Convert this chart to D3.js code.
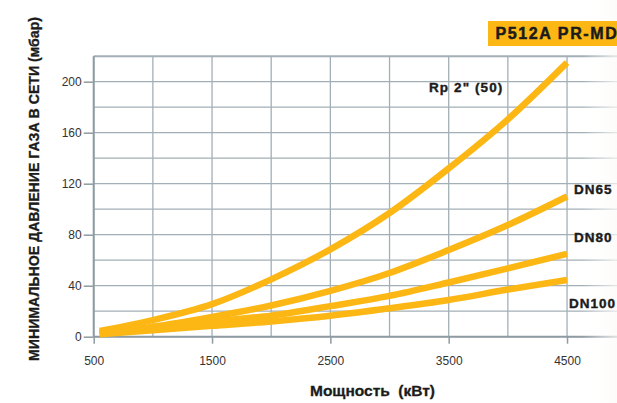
<!DOCTYPE html>
<html><head><meta charset="utf-8">
<script src="https://cdn.jsdelivr.net/npm/d3@7"></script>
<style>
html,body{margin:0;padding:0;background:#fff;overflow:hidden;}
svg{display:block;font-family:"Liberation Sans",Arial,sans-serif;}
</style></head>
<body>
<svg id="chart" width="617" height="403"></svg>
<script>
const powerKW = [550, 1000, 1500, 2000, 2500, 3000, 3500, 4000, 4500];
const rp2 = [4.5, 13, 25.5, 45, 68.5, 97, 132, 170.5, 215];
const dn65 = [3, 7.8, 15.5, 24.5, 36, 50, 68, 87.6, 110];
const dn80 = [2.5, 6, 12, 16.5, 24, 32, 42.5, 53.6, 65];
const dn100 = [2, 5, 8.5, 12, 16.5, 22.3, 28.8, 37, 44.5];
const seriesNames = ['Rp 2" (50)', "DN65", "DN80", "DN100"];
const xTicks = [500, 1500, 2500, 3500, 4500];
const yTicks = [0, 40, 80, 120, 160, 200];
const xGrid = [500, 1000, 1500, 2000, 2500, 3000, 3500, 4000, 4500, 5000];
const yGrid = [0, 20, 40, 60, 80, 100, 120, 140, 160, 180, 200, 220];
const title = "P512A PR-MD";
const xTitle = "Мощность  (кВт)";
const yTitle = "МИНИМАЛЬНОЕ ДАВЛЕНИЕ ГАЗА В СЕТИ (мбар)";

const series = [rp2, dn65, dn80, dn100];
const svg = d3.select("#chart");
const x = d3.scaleLinear().domain([500, 5000]).range([93.7, 626.2]);
const y = d3.scaleLinear().domain([0, 220]).range([336.7, 56.2]);
const orange = "#FCB714";
const gridC = "#A3AFB6";
const ink = "#1b1b1b";

// grid
svg.append("g").selectAll("line").data(xGrid).join("line")
  .attr("x1", d => x(d)).attr("x2", d => x(d))
  .attr("y1", y(220)).attr("y2", y(0))
  .attr("stroke", gridC).attr("stroke-width", 1.3);
svg.append("g").selectAll("line").data(yGrid).join("line")
  .attr("x1", x(500)).attr("x2", 617)
  .attr("y1", d => y(d)).attr("y2", d => y(d))
  .attr("stroke", gridC).attr("stroke-width", d => (d === 220 ? 2 : 1.3));

// axes
const xAxis = d3.axisBottom(x).tickValues(xTicks).tickSize(7).tickFormat(d3.format("d"));
const gx = svg.append("g").attr("transform", `translate(0,${y(0)})`).call(xAxis);
gx.select(".domain").attr("stroke", "#8F9BA2").attr("stroke-width", 2).attr("d", `M${x(500)},0H617`);
gx.selectAll(".tick line").attr("stroke", "#8F9BA2").attr("stroke-width", 1.5);
gx.selectAll(".tick text").attr("y", 20).attr("font-size", 12).attr("fill", "#333")
  .attr("font-family", "Liberation Sans, Arial, sans-serif");

const yAxis = d3.axisLeft(y).tickValues(yTicks).tickSize(10).tickPadding(2);
const gy = svg.append("g").attr("transform", `translate(${x(500)},0)`).call(yAxis);
gy.select(".domain").attr("stroke", "#8F9BA2").attr("stroke-width", 2).attr("d", `M0,${y(220)}V${y(0)}`);
gy.selectAll(".tick line").attr("stroke", "#8F9BA2").attr("stroke-width", 1.5);
gy.selectAll(".tick text").attr("font-size", 12).attr("fill", "#333")
  .attr("font-family", "Liberation Sans, Arial, sans-serif");

// right fade
const defs = svg.append("defs");
const grad = defs.append("linearGradient").attr("id", "fade").attr("x1", "0").attr("x2", "1").attr("y1", "0").attr("y2", "0");
grad.append("stop").attr("offset", "0").attr("stop-color", "#fff").attr("stop-opacity", 0);
grad.append("stop").attr("offset", "1").attr("stop-color", "#fbfaf8").attr("stop-opacity", 0.75);
svg.append("rect").attr("x", 582).attr("y", 0).attr("width", 35).attr("height", 403).attr("fill", "url(#fade)");

// curves
const line = d3.line().x((d, i) => x(powerKW[i])).y(d => y(d)).curve(d3.curveMonotoneX);
svg.append("g").selectAll("path").data(series).join("path")
  .attr("d", d => line(d)).attr("fill", "none").attr("stroke", orange)
  .attr("stroke-width", 6.5).attr("stroke-linecap", "butt");

// series labels
const labelPos = [
  { x: 429, y: 91.5, ls: 1.1 },
  { x: 574, y: 193.5, ls: 1 },
  { x: 574, y: 241.5, ls: 1 },
  { x: 569, y: 307.5, ls: 1 }
];
svg.append("g").selectAll("text").data(seriesNames).join("text")
  .attr("x", (d, i) => labelPos[i].x).attr("y", (d, i) => labelPos[i].y)
  .attr("letter-spacing", (d, i) => labelPos[i].ls)
  .attr("font-size", 13.5).attr("font-weight", "bold").attr("fill", ink)
  .attr("stroke", ink).attr("stroke-width", 0.4)
  .text(d => d);

// title box
svg.append("rect").attr("x", 488).attr("y", 21).attr("width", 130).attr("height", 25).attr("fill", orange);
svg.append("text").attr("x", 495.5).attr("y", 39).attr("font-size", 16).attr("font-weight", "bold")
  .attr("letter-spacing", 1.6).attr("fill", ink).attr("stroke", ink).attr("stroke-width", 0.5).text(title);

// axis titles
svg.append("text").attr("x", 372.5).attr("y", 396).attr("text-anchor", "middle")
  .attr("font-size", 14.5).attr("font-weight", "bold").attr("fill", ink)
  .attr("stroke", ink).attr("stroke-width", 0.3)
  .attr("textLength", 125).attr("lengthAdjust", "spacingAndGlyphs")
  .style("white-space", "pre").text(xTitle);
svg.append("text").attr("transform", "translate(38.5,189) rotate(-90)").attr("text-anchor", "middle")
  .attr("font-size", 14).attr("font-weight", "bold").attr("fill", ink)
  .attr("stroke", ink).attr("stroke-width", 0.3)
  .attr("textLength", 344).attr("lengthAdjust", "spacingAndGlyphs").text(yTitle);
</script>
</body></html>
